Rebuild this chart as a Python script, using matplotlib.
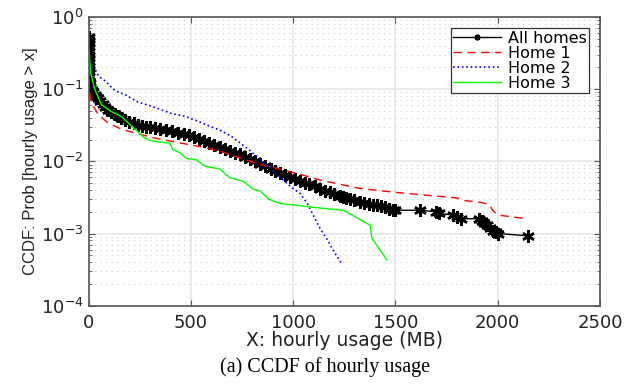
import matplotlib
matplotlib.use('Agg')
import matplotlib.pyplot as plt
from matplotlib.ticker import LogLocator, NullFormatter

plt.rcParams['font.family'] = ['DejaVu Sans']
plt.rcParams['mathtext.default'] = 'regular'

# All homes (MB, CCDF)
all_x = [0, 0, 0, 0, 0, 0, 0, 0, 1, 1, 2, 3, 4, 6, 8, 15, 22, 30, 38, 46, 58, 70, 82, 95,
         112, 130, 145, 160, 180, 200, 220, 242, 262, 280, 300, 324, 350, 380, 410, 437,
         465, 490, 515, 540, 565, 590, 615, 642, 665, 690, 715, 740, 765, 790, 815, 838,
         865, 890, 912, 936, 960, 985, 1010, 1034, 1058, 1080, 1105, 1132, 1155, 1180,
         1200, 1230, 1245, 1260, 1280, 1300, 1328, 1345, 1370, 1390, 1409, 1430, 1450,
         1470, 1490, 1500, 1620, 1700, 1715, 1780, 1800, 1820, 1910, 1925, 1935, 1950,
         1960, 1975, 1990, 2000, 2147]
all_y = [0.52, 0.48, 0.43, 0.38, 0.34, 0.30, 0.27, 0.24, 0.21, 0.19, 0.17, 0.15, 0.13,
         0.12, 0.11, 0.097, 0.09, 0.084, 0.08, 0.076, 0.068, 0.062, 0.057, 0.052, 0.048,
         0.045, 0.042, 0.040, 0.037, 0.035, 0.0335, 0.032, 0.031, 0.030, 0.0295, 0.029,
         0.028, 0.027, 0.026, 0.025, 0.024, 0.023, 0.022, 0.0205, 0.019, 0.0178, 0.0168,
         0.0158, 0.015, 0.014, 0.0132, 0.0125, 0.0116, 0.0107, 0.010, 0.0093, 0.0086,
         0.0079, 0.0073, 0.0068, 0.0064, 0.006, 0.0056, 0.0053, 0.005, 0.0048, 0.0045,
         0.0042, 0.0039, 0.0037, 0.0035, 0.0033, 0.0032, 0.0031, 0.003, 0.0029, 0.0027,
         0.00265, 0.0026, 0.0025, 0.0025, 0.0024, 0.0023, 0.0022, 0.0021, 0.0021, 0.0021,
         0.002, 0.0019, 0.0018, 0.0017, 0.0016, 0.0016, 0.0015, 0.0014, 0.0013, 0.0012,
         0.0011, 0.00105, 0.001, 0.00093]

# Home 1
h1_x = [0, 1, 3, 14, 46, 95, 160, 242, 324, 446, 544, 642, 740, 838, 936, 1034, 1132,
        1245, 1328, 1507, 1650, 1803, 1820, 1917, 1960, 1975, 2000, 2147]
h1_y = [0.52, 0.2, 0.1, 0.065, 0.045, 0.034, 0.028, 0.024, 0.021, 0.018, 0.016, 0.0138,
        0.0112, 0.0091, 0.0078, 0.0066, 0.0055, 0.0047, 0.0042, 0.0037, 0.0034, 0.0031,
        0.0029, 0.0027, 0.0025, 0.0021, 0.0018, 0.0016]

# Home 2
h2_x = [0, 0, 3, 10, 32, 50, 81, 130, 178, 242, 309, 405, 472, 544, 600, 642, 700, 740,
        790, 838, 890, 936, 1000, 1034, 1070, 1098, 1130, 1165, 1200, 1238]
h2_y = [0.52, 0.3, 0.24, 0.21, 0.19, 0.15, 0.13, 0.095, 0.084, 0.066, 0.058, 0.046, 0.042,
        0.035, 0.03, 0.027, 0.022, 0.018, 0.014, 0.0106, 0.008, 0.006, 0.0042, 0.0036,
        0.0026, 0.0018, 0.0012, 0.00084, 0.00056, 0.00038]

# Home 3
h3_x = [0, 3, 10, 30, 63, 111, 160, 209, 275, 300, 350, 397, 412, 446, 478, 527, 568, 642,
        691, 755, 805, 838, 880, 936, 1000, 1100, 1245, 1377, 1385, 1458]
h3_y = [0.37, 0.35, 0.17, 0.1, 0.061, 0.049, 0.042, 0.031, 0.021, 0.0195, 0.0185, 0.0178,
        0.0146, 0.0132, 0.011, 0.0105, 0.0086, 0.0078, 0.0059, 0.0053, 0.0041, 0.0039,
        0.003, 0.0026, 0.0025, 0.0023, 0.0021, 0.0013, 0.00086, 0.00043]

fig = plt.figure(figsize=(6.26, 3.85), dpi=100)
ax = fig.add_axes([0.1414, 0.206, 0.8171, 0.750])

ax.plot(all_x, all_y, '-', color='black', lw=1, marker=(6, 2, 0), ms=9, mew=1.8,
        label='All homes')
ax.plot(h1_x, h1_y, '--', color='#ff0000', lw=1, dashes=(6, 4), label='Home 1')
ax.plot(h2_x, h2_y, ':', color='#0000ff', lw=1.2, label='Home 2')
ax.plot(h3_x, h3_y, '-', color='#00ff00', lw=1, label='Home 3')

ax.set_yscale('log')
ax.set_xlim(0, 2500)
ax.set_ylim(1e-4, 1)
ax.set_xticks([0, 500, 1000, 1500, 2000, 2500])
ax.yaxis.set_major_locator(LogLocator(base=10, numticks=10))
ax.yaxis.set_minor_locator(LogLocator(base=10, subs=range(2, 10), numticks=20))
ax.yaxis.set_minor_formatter(NullFormatter())

ax.grid(True, which='major', color='#e6e6e6', lw=1.2, ls='-')
ax.grid(True, which='minor', axis='y', color='#cccccc', lw=0.8, ls=(0, (1, 4)))
ax.set_axisbelow(True)

for s in ax.spines.values():
    s.set_color('#555555')
    s.set_linewidth(1.2)
ax.tick_params(which='both', direction='in', top=True, right=True, colors='#555555',
               labelcolor='#222222', labelsize=13)
ax.tick_params(which='major', length=4)
ax.tick_params(which='minor', length=2)
ax.tick_params(axis='x', pad=6)

ax.set_xlabel('X: hourly usage (MB)', fontsize=13.5, color='#222222', labelpad=-1)
ax.set_ylabel('CCDF: Prob [hourly usage > x]', fontsize=12, color='#222222', labelpad=2,
              family=['Liberation Sans', 'DejaVu Sans'])

leg = ax.legend(loc='upper right', fontsize=11.5, fancybox=False, framealpha=1,
                edgecolor='#333333', borderpad=0.15, labelspacing=0.0, handlelength=3.0,
                handletextpad=0.4, borderaxespad=0.7, markerscale=0.45)
leg.get_frame().set_linewidth(0.9)

fig.text(0.52, 0.033, '(a) CCDF of hourly usage', fontsize=14.5,
         family=['Liberation Serif', 'DejaVu Serif'], ha='center')

fig.savefig('out.png', dpi=100)
